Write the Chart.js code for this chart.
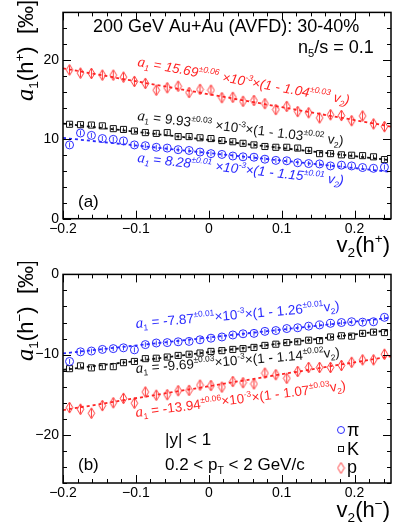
<!DOCTYPE html>
<html><head><meta charset="utf-8">
<script src="https://cdn.jsdelivr.net/npm/chart.js@4/dist/chart.umd.min.js"></script>
<style>
html,body{margin:0;padding:0;background:#fff;}
#wrap{position:relative;width:399px;height:529px;overflow:hidden;}
canvas{position:absolute;left:0;}
#ca{top:0;} #cb{top:262px;}
</style></head><body>
<div id="wrap"><canvas id="ca" width="399" height="262"></canvas><canvas id="cb" width="399" height="267"></canvas></div>
<script>
// ---- data ----
const v2 = [-0.191,-0.176,-0.161,-0.146,-0.131,-0.117,-0.102,-0.087,-0.072,-0.057,
            -0.042,-0.027,-0.012,0.003,0.018,0.033,0.047,0.062,0.077,0.092,
            0.107,0.122,0.137,0.152,0.167,0.182,0.196,0.211,0.226,0.241];
// panel (a): a1(h+) [permille]
const piPos = [9.3,10.8,10.5,10.1,10.0,9.8,9.3,9.2,9.0,8.9,8.7,8.6,8.4,8.2,8.1,7.9,7.8,7.75,7.5,7.35,7.3,7.05,6.95,6.9,6.65,6.75,6.65,6.45,6.35,6.5];
const kPos  = [11.9,11.85,11.8,11.7,11.35,11.25,11.05,10.85,10.75,10.85,10.35,10.35,10.2,10.1,9.85,9.7,9.5,9.3,9.1,9.0,9.0,8.9,8.6,8.2,8.2,8.05,8.0,7.95,7.8,7.45];
const pPos  = [18.75,18.35,18.3,18.1,18.1,17.85,17.3,17.05,16.2,16.5,16.7,15.9,16.3,16.2,15.25,15.3,14.8,14.9,14.5,13.75,14.15,13.5,13.35,12.7,13.1,13.0,12.35,12.95,11.95,11.6];
// panel (b): a1(h-) [permille]
const piNeg = [-10.85,-9.65,-9.55,-9.35,-9.25,-9.15,-9.4,-8.75,-8.55,-8.5,-8.4,-8.35,-8.15,-7.95,-7.8,-7.55,-7.4,-7.35,-7.1,-7.0,-6.75,-6.65,-6.45,-6.3,-6.1,-6.0,-5.9,-5.95,-5.9,-5.35];
const kNeg  = [-11.75,-11.4,-11.65,-11.5,-11.5,-11.0,-10.85,-10.5,-10.45,-10.3,-10.1,-9.95,-9.8,-9.6,-9.5,-9.35,-9.25,-9.1,-8.85,-8.7,-8.5,-8.4,-8.2,-8.25,-7.8,-7.65,-7.7,-7.35,-7.2,-7.25];
const pNeg  = [-16.6,-16.8,-17.3,-16.35,-16.0,-15.45,-16.05,-14.65,-15.05,-15.0,-14.5,-14.45,-13.8,-13.85,-14.05,-13.35,-13.5,-13.65,-12.3,-12.5,-12.95,-12.1,-11.6,-11.6,-11.6,-11.35,-10.95,-10.65,-10.65,-9.95];
// fit lines (end points)
const fitX = [-0.2, 0.25];
const fitPiPos = [10.18, 5.90];
const fitKPos  = [11.98, 7.37];
const fitPPos  = [18.95, 11.61];
const fitPiNeg = [-9.85, -5.39];
const fitKNeg  = [-11.90, -6.93];
const fitPNeg  = [-16.92, -10.21];
// axis ranges / ticks
const xRange = [-0.2, 0.25];
const yRangeA = [0, 26];
const yRangeB = [-26, 0];

// ---- style ----
const BLUE = '#2a2aff', RED = '#ff2424', BLACK = '#111';
const SANS = "'Liberation Sans', Arial, Helvetica, sans-serif";
const SERIF = "'Liberation Serif', 'Times New Roman', serif";
Chart.defaults.font.family = SANS;
Chart.defaults.color = '#000';

function diamondImg(color){
  const c = document.createElement('canvas'); c.width = 9; c.height = 13;
  const g = c.getContext('2d');
  g.strokeStyle = color; g.lineWidth = 0.9;
  g.beginPath(); g.moveTo(4.5,1); g.lineTo(7.8,6.5); g.lineTo(4.5,12); g.lineTo(1.2,6.5); g.closePath(); g.stroke();
  return c;
}
const DIAM = diamondImg(RED);

const pts = (xs, ys) => xs.map((x,i)=>({x:x, y:ys[i]}));

function drawRich(ctx, x, y, ang, parts, size, color, italic, align){
  ctx.save();
  ctx.translate(x,y); ctx.rotate(ang*Math.PI/180);
  ctx.fillStyle = color; ctx.textBaseline = 'alphabetic'; ctx.textAlign = 'left';
  const items = parts.map(([t,k])=>{
    let fs=size, dy=0, fam=SANS, st = italic ? 'italic ' : '';
    if (k==='sup'){ fs=size*0.62; dy=-size*0.42; }
    else if (k==='sub'){ fs=size*0.62; dy=size*0.24; }
    else if (k==='ai'){ fs=size*1.12; fam=SERIF; st='italic '; }
    const font = st + fs.toFixed(1) + 'px ' + fam;
    ctx.font = font;
    return {t, font, dy, w: ctx.measureText(t).width};
  });
  let cx = 0;
  if (align==='right') cx = -items.reduce((s,it)=>s+it.w,0);
  for (const it of items){ ctx.font = it.font; ctx.fillText(it.t, cx, it.dy); cx += it.w; }
  ctx.restore();
}

const frameTicks = {
  id:'frameTicks',
  afterDraw(chart){
    const {ctx, chartArea:a, scales:{x,y}} = chart;
    ctx.save(); ctx.strokeStyle='#000'; ctx.lineWidth=1;
    const ln=(x1,y1,x2,y2)=>{ctx.beginPath();ctx.moveTo(x1,y1);ctx.lineTo(x2,y2);ctx.stroke();};
    x.ticks.forEach(t=>{
      const k = Math.round(t.value*100);
      if (Math.abs(t.value*100-k)>1e-6 || k%2!==0) return;
      const L = (k%10===0) ? 8 : 4;
      const px = Math.round(x.getPixelForValue(t.value))+0.5;
      ln(px,a.bottom,px,a.bottom-L); ln(px,a.top,px,a.top+L);
    });
    y.ticks.forEach(t=>{
      const v = Math.round(t.value);
      const L = (v%10===0) ? 8 : 4;
      const py = Math.round(y.getPixelForValue(t.value))+0.5;
      ln(a.left,py,a.left+L,py); ln(a.right,py,a.right-L,py);
    });
    ctx.lineWidth=1.5;
    ctx.strokeRect(a.left,a.top,a.right-a.left,a.bottom-a.top);
    ctx.restore();
  }
};

const errBars = {
  id:'errBars',
  afterDatasetsDraw(chart){
    const ctx = chart.ctx; ctx.save(); ctx.lineWidth=0.9;
    chart.data.datasets.forEach((ds,i)=>{
      if (ds.showLine) return;
      const meta = chart.getDatasetMeta(i);
      ctx.strokeStyle = ds.borderColor;
      const h = ds.errLen;
      meta.data.forEach(el=>{ ctx.beginPath(); ctx.moveTo(el.x, el.y-h); ctx.lineTo(el.x, el.y+h); ctx.stroke(); });
    });
    ctx.restore();
  }
};

function fmtX(v){
  const k = Math.round(v*100);
  if (k%10!==0) return '';
  if (k===0) return '0';
  return (k/100).toFixed(1).replace('-','\u2212');
}
function fmtY(v){
  const k = Math.round(v);
  if (k%10!==0) return '';
  return String(k).replace('-','\u2212');
}

function makeChart(canvas, yRange, series, fits, texts, topPad, plotBottom){
  const H = canvas.height;
  const datasets = [];
  series.forEach(s=>datasets.push({
    data: pts(v2, s.y), showLine:false, borderColor:s.color, backgroundColor:'rgba(0,0,0,0)', errLen:s.e,
    pointStyle:s.style, pointRadius:s.r, pointBorderWidth:1, pointBorderColor:s.color, pointBackgroundColor:'rgba(0,0,0,0)'
  }));
  fits.forEach(f=>datasets.push({
    data: pts(fitX, f.y), showLine:true, borderColor:f.color, borderWidth:1.8, borderDash:[3,3],
    pointRadius:0, fill:false
  }));
  return new Chart(canvas, {
    type:'scatter',
    data:{datasets},
    options:{
      responsive:false, animation:false, devicePixelRatio:1,
      layout:{padding:{left:0,right:8,top:topPad,bottom:0}},
      plugins:{legend:{display:false}, tooltip:{enabled:false}},
      scales:{
        x:{type:'linear', min:xRange[0], max:xRange[1],
          afterFit:(s)=>{ s.height = H - plotBottom; },
          grid:{display:false, drawTicks:false}, border:{display:false},
          ticks:{stepSize:0.02, includeBounds:false, autoSkip:false, maxRotation:0, minRotation:0,
            padding:2, color:'#000', font:{size:14, family:SANS}, callback:(v)=>fmtX(v)}},
        y:{type:'linear', min:yRange[0], max:yRange[1],
          afterFit:(s)=>{ s.width = 63; },
          grid:{display:false, drawTicks:false}, border:{display:false},
          ticks:{stepSize:2, includeBounds:false, autoSkip:false, padding:4, color:'#000',
            font:{size:14, family:SANS}, callback:(v)=>fmtY(v)}}
      }
    },
    plugins:[frameTicks, errBars, {
      id:'texts',
      afterDraw(chart){
        const ctx = chart.ctx;
        texts.forEach(t=>{
          if (t.fn) { t.fn(ctx); return; }
          drawRich(ctx, t.x, t.y, t.a||0, t.parts, t.size, t.color||'#000', !!t.it, t.align);
        });
      }
    }]
  });
}

// ---- panel (a) ----
const textsA = [
  {x:93, y:32, parts:[['200 GeV Au+Au (AVFD): 30-40%','']], size:18},
  {x:298, y:53, parts:[['n',''],['5','sub'],['/s = 0.1','']], size:18},
  {x:137, y:66, a:10.3, it:true, color:RED, size:13.5,
   parts:[['a','ai'],['1','sub'],[' = 15.69',''],['\u00b10.06','sup'],[' \u00d710',''],['-3','sup'],['\u00d7(1 - 1.04',''],['\u00b10.03','sup'],[' v',''],['2','sub'],[')','']]},
  {x:137, y:120, a:7, color:BLACK, size:13.5,
   parts:[['a','ai'],['1','sub'],[' = 9.93',''],['\u00b10.03','sup'],[' \u00d710',''],['-3','sup'],['\u00d7(1 - 1.03',''],['\u00b10.02','sup'],[' v',''],['2','sub'],[')','']]},
  {x:137, y:162, a:6.3, it:true, color:BLUE, size:13.5,
   parts:[['a','ai'],['1','sub'],[' = 8.28',''],['\u00b10.01','sup'],[' \u00d710',''],['-3','sup'],['\u00d7(1 - 1.15',''],['\u00b10.01','sup'],[' v',''],['2','sub'],[')','']]},
  {x:78, y:207, parts:[['(a)','']], size:17},
  {x:390, y:252, align:'right', parts:[['v',''],['2','sub'],['(h',''],['+','sup'],[')','']], size:22},
  {x:33, y:101, a:-90, parts:[['a','ai'],['1','sub'],['(h',''],['+','sup'],[')  [\u2030]','']], size:22}
];
makeChart(document.getElementById('ca'), yRangeA,
  [{y:piPos,color:BLUE,style:'circle',r:4,e:2.5},{y:kPos,color:BLACK,style:'rect',r:4.3,e:2},{y:pPos,color:RED,style:DIAM,r:5,e:4.5}],
  [{y:fitPiPos,color:BLUE},{y:fitKPos,color:BLACK},{y:fitPPos,color:RED}],
  textsA, 8, 218.7);

// ---- panel (b) ----
function legendFn(ctx){
  ctx.save(); ctx.lineWidth=1;
  ctx.strokeStyle=BLUE; ctx.beginPath(); ctx.arc(341,168,3.5,0,Math.PI*2); ctx.stroke();
  ctx.strokeStyle=BLACK; ctx.strokeRect(338.5,184.5,5,5);
  ctx.drawImage(DIAM, 341-4.5, 206-6.5);
  ctx.fillStyle='#000'; ctx.font='18px '+SANS;
  ctx.fillText('\u03c0',347,174); ctx.fillText('K',347,193); ctx.fillText('p',347,211);
  ctx.restore();
}
const textsB = [
  {x:136, y:66, a:-5, color:BLUE, size:13.5,
   parts:[['a','ai'],['1','sub'],[' = -7.87',''],['\u00b10.01','sup'],['\u00d710',''],['-3','sup'],['\u00d7(1 - 1.26',''],['\u00b10.01','sup'],['v',''],['2','sub'],[')','']]},
  {x:136, y:111, a:-4.6, color:BLACK, size:13.5,
   parts:[['a','ai'],['1','sub'],[' = -9.69',''],['\u00b10.03','sup'],['\u00d710',''],['-3','sup'],['\u00d7(1 - 1.14',''],['\u00b10.02','sup'],['v',''],['2','sub'],[')','']]},
  {x:136, y:155, a:-7.4, color:RED, size:13.5,
   parts:[['a','ai'],['1','sub'],[' = -13.94',''],['\u00b10.06','sup'],['\u00d710',''],['-3','sup'],['\u00d7(1 - 1.07',''],['\u00b10.03','sup'],['v',''],['2','sub'],[')','']]},
  {x:78, y:208, parts:[['(b)','']], size:17},
  {x:165, y:183, parts:[['|y| < 1','']], size:17},
  {x:165, y:208, parts:[['0.2 < p',''],['T','sub'],[' < 2 GeV/c','']], size:17},
  {fn:legendFn},
  {x:390, y:255, align:'right', parts:[['v',''],['2','sub'],['(h',''],['\u2212','sup'],[')','']], size:22},
  {x:33, y:99, a:-90, parts:[['a','ai'],['1','sub'],['(h',''],['\u2212','sup'],[')  [\u2030]','']], size:22}
];
makeChart(document.getElementById('cb'), yRangeB,
  [{y:piNeg,color:BLUE,style:'circle',r:4,e:2.5},{y:kNeg,color:BLACK,style:'rect',r:4.3,e:2},{y:pNeg,color:RED,style:DIAM,r:5,e:4.5}],
  [{y:fitPiNeg,color:BLUE},{y:fitKNeg,color:BLACK},{y:fitPNeg,color:RED}],
  textsB, 10.7, 221);
</script>
</body></html>
